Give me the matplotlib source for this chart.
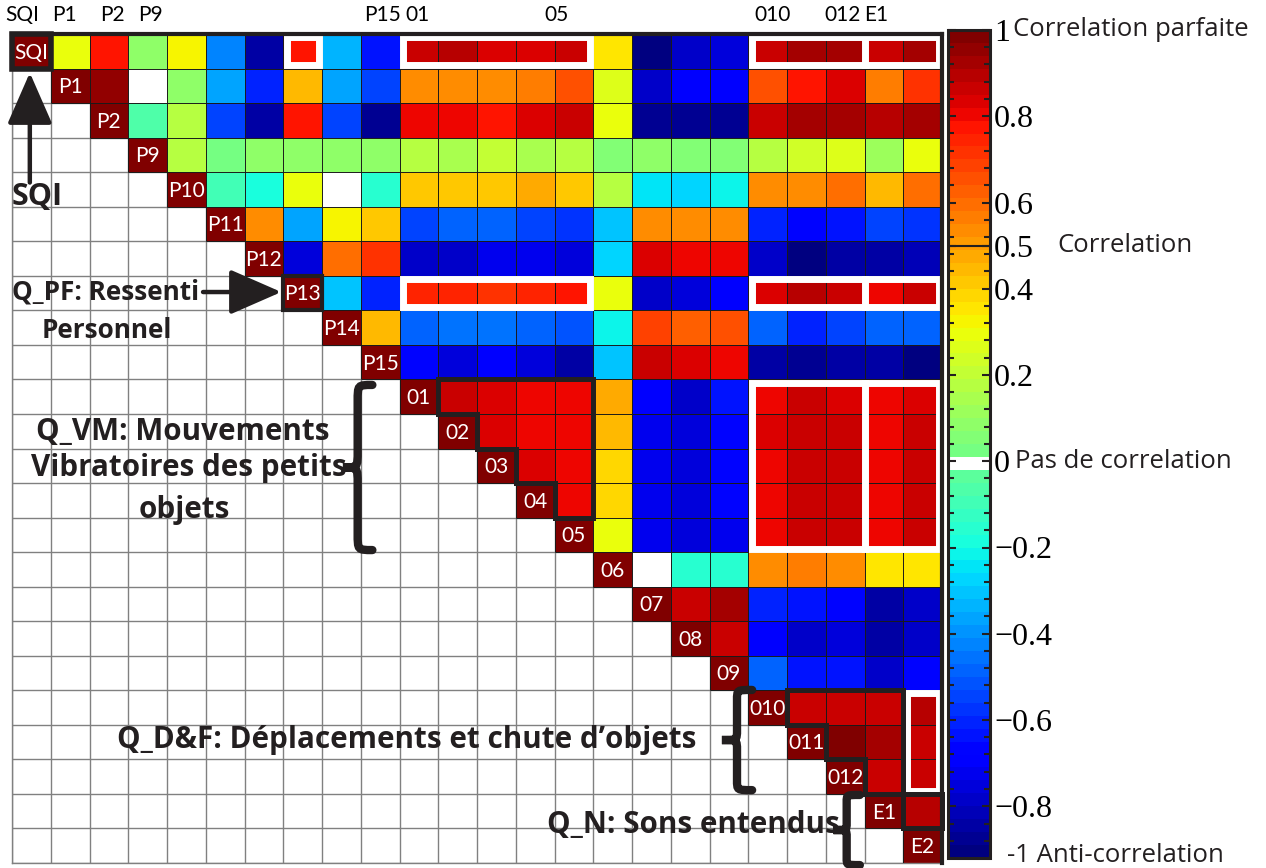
#!/usr/bin/env python
import numpy as np
import matplotlib as mpl

mpl.use("Agg")
from matplotlib import pyplot as plt
from matplotlib.colors import ListedColormap, BoundaryNorm
from matplotlib.patches import Rectangle, Polygon, PathPatch
from matplotlib.path import Path

SANS = ["Open Sans", "DejaVu Sans"]
NARROW = ["Lato", "DejaVu Sans"]
SERIF = ["Liberation Serif", "DejaVu Serif"]
INK = "#231f20"

labels = ["SQI", "P1", "P2", "P9", "P10", "P11", "P12", "P13", "P14", "P15",
          "01", "02", "03", "04", "05", "06", "07", "08", "09",
          "010", "011", "012", "E1", "E2"]

# sparse labels written above the matrix
top_ticks = ["SQI", "P1", "P2", "P9", "P15", "01", "05", "010", "012", "E1"]
top_nudge = [-0.24, -0.14, 0.08, 0.06, 0.05, -0.03, -0.44, 0.14, -0.06, -0.21]

# upper triangle, row i holds the correlations with columns i+1 .. end
corr_rows = [
    [0.30, 0.77, 0.07, 0.33, -0.44, -0.85, 0.77, -0.34, -0.64, 0.85, 0.88, 0.82,
     0.84, 0.87, 0.35, -0.90, -0.80, -0.76, 0.87, 0.92, 0.92, 0.87, 0.92],
    [0.96, 0.00, 0.07, -0.36, -0.60, 0.44, -0.38, -0.56, 0.54, 0.54, 0.52, 0.56,
     0.64, 0.27, -0.78, -0.71, -0.71, 0.64, 0.78, 0.84, 0.55, 0.70],
    [-0.06, 0.18, -0.54, -0.85, 0.76, -0.56, -0.87, 0.80, 0.80, 0.76, 0.82, 0.85,
     0.30, -0.88, -0.88, -0.88, 0.87, 0.92, 0.92, 0.88, 0.92],
    [0.18, 0.03, 0.07, 0.07, 0.08, 0.07, 0.18, 0.15, 0.20, 0.16, 0.18, 0.04,
     0.08, 0.04, 0.04, 0.18, 0.22, 0.25, 0.10, 0.28],
    [-0.10, -0.18, 0.30, 0.00, -0.17, 0.40, 0.42, 0.40, 0.46, 0.42, 0.18, -0.25,
     -0.27, -0.22, 0.54, 0.52, 0.58, 0.43, 0.59],
    [0.52, -0.38, 0.31, 0.42, -0.56, -0.50, -0.48, -0.55, -0.58, -0.30, 0.54,
     0.52, 0.54, -0.62, -0.66, -0.64, -0.54, -0.58],
    [-0.75, 0.58, 0.70, -0.78, -0.78, -0.74, -0.72, -0.76, -0.27, 0.82, 0.79,
     0.79, -0.80, -0.92, -0.85, -0.84, -0.82],
    [-0.30, -0.62, 0.75, 0.75, 0.72, 0.75, 0.78, 0.30, -0.78, -0.76, -0.71, 0.84,
     0.88, 0.87, 0.79, 0.87],
    [0.45, -0.48, -0.46, -0.46, -0.48, -0.53, -0.22, 0.68, 0.63, 0.65, -0.50,
     -0.62, -0.54, -0.48, -0.50],
    [-0.68, -0.76, -0.69, -0.76, -0.84, -0.30, 0.85, 0.83, 0.79, -0.85, -0.87,
     -0.85, -0.86, -0.90],
    [0.85, 0.82, 0.81, 0.79, 0.46, -0.71, -0.78, -0.64, 0.79, 0.85, 0.84, 0.79, 0.84],
    [0.84, 0.81, 0.79, 0.43, -0.74, -0.76, -0.66, 0.82, 0.87, 0.85, 0.81, 0.85],
    [0.82, 0.79, 0.39, -0.74, -0.76, -0.66, 0.79, 0.86, 0.86, 0.79, 0.85],
    [0.81, 0.37, -0.74, -0.76, -0.67, 0.79, 0.87, 0.85, 0.81, 0.86],
    [0.29, -0.74, -0.76, -0.73, 0.81, 0.85, 0.85, 0.81, 0.85],
    [0.00, -0.17, -0.17, 0.54, 0.57, 0.52, 0.35, 0.35],
    [0.87, 0.91, -0.62, -0.64, -0.66, -0.84, -0.78],
    [0.85, -0.71, -0.80, -0.76, -0.84, -0.78],
    [-0.48, -0.64, -0.64, -0.80, -0.66],
    [0.87, 0.86, 0.85, 0.88],
    [0.98, 0.91, 0.86],
    [0.87, 0.86],
    [0.90],
]

# highlighted groups (row from, row to, col from, col to)
white_boxes = [(0, 0, 7, 7), (0, 0, 10, 14), (0, 0, 19, 23), (7, 7, 10, 14),
               (7, 7, 19, 23), (10, 14, 19, 23), (19, 21, 23, 23)]
white_splits = [(0, 0, 21.5), (7, 7, 21.5), (10, 14, 21.5)]
# staircase blocks (first row, last row, last col)
black_blocks = [(10, 13, 14), (19, 21, 22), (22, 22, 23)]

n = len(labels)
corr = np.full((n, n), np.nan)
for i, row in enumerate(corr_rows):
    corr[i, i + 1:] = row
np.fill_diagonal(corr, 1.0)

vmin, vmax, nbins = -0.92, 1.0, 64
colors = plt.get_cmap("jet", nbins)(np.arange(nbins))
zero_bin = int((0 - vmin) / (vmax - vmin) * nbins)
colors[zero_bin] = (1, 1, 1, 1)
cmap = ListedColormap(colors)
cmap.set_bad((1, 1, 1, 0))
norm = BoundaryNorm(np.linspace(vmin, vmax, nbins + 1), nbins)

W, H = 1266, 868
fig = plt.figure(figsize=(W / 100, H / 100), dpi=100)
ax = fig.add_axes([12 / W, 1 - 863 / H, 930 / W, 829 / H])

edges = np.arange(n + 1) - 0.5
# light grid everywhere, dark grid on the coloured part
ax.hlines(edges, -0.5, n - 0.5, color="#808080", lw=1.0, zorder=1)
ax.vlines(edges, -0.5, n - 0.5, color="#808080", lw=1.0, zorder=1)
mesh = ax.pcolormesh(edges, edges, np.ma.masked_invalid(corr), cmap=cmap,
                     norm=norm, zorder=2)
k = np.arange(n + 1)
ax.hlines(k - 0.5, np.maximum(k - 1.5, -0.5), n - 0.5, color="#1a1a1a", lw=0.7, zorder=3)
ax.vlines(k - 0.5, -0.5, np.minimum(k + 0.5, n - 0.5), color="#1a1a1a", lw=0.7, zorder=3)

ax.set_xlim(-0.5, n - 0.5)
ax.set_ylim(n - 0.5, -0.5)
ax.set_xticks([])
ax.set_yticks([])
for side in ["top", "right"]:
    ax.spines[side].set_linewidth(3)
    ax.spines[side].set_color(INK)
    ax.spines[side].set_zorder(6)
for side in ["left", "bottom"]:
    ax.spines[side].set_linewidth(1.0)
    ax.spines[side].set_color("#808080")

for i, name in enumerate(labels):
    ax.text(i, i + 0.04, name, color="white", ha="center", va="center",
            fontsize=15, family=NARROW, zorder=5)

for name, dx in zip(top_ticks, top_nudge):
    ax.text(labels.index(name) + dx, -1.05, name, ha="center", va="center",
            fontsize=15, family=NARROW, clip_on=False)

# white frames around strongly correlated groups
ins = 0.09
for r0, r1, c0, c1 in white_boxes:
    ax.add_patch(Rectangle((c0 - 0.5 + ins, r0 - 0.5 + ins), c1 - c0 + 1 - 2 * ins,
                           r1 - r0 + 1 - 2 * ins, fill=False, ec="white", lw=5,
                           joinstyle="miter", zorder=4))
for r0, r1, xs in white_splits:
    ax.plot([xs, xs], [r0 - 0.5 + ins, r1 + 0.5 - ins], color="white", lw=5, zorder=4)


def stair(r0, r1, cmax):
    pts = [(r0 + 0.5, r0 - 0.5), (cmax + 0.5, r0 - 0.5), (cmax + 0.5, r1 + 0.5)]
    for r in range(r1, r0 - 1, -1):
        pts += [(r + 0.5, r + 0.5), (r + 0.5, r - 0.5)]
    return pts


for r0, r1, cmax in black_blocks:
    ax.add_patch(Polygon(stair(r0, r1, cmax), closed=True, fill=False, ec=INK,
                         lw=3.6, joinstyle="miter", zorder=5, clip_on=False))

ax.add_patch(Rectangle((-0.5, -0.5), 1, 1, fill=False, ec=INK, lw=4, zorder=5, clip_on=False))
ax.add_patch(Rectangle((6.5, 6.5), 1, 1, fill=False, ec=INK, lw=3, zorder=5))


def brace(x_tip, x_end, y_top, y_bot):
    xm = (x_tip + x_end) / 2
    ym = (y_top + y_bot) / 2
    q = (y_bot - y_top) * 0.1
    verts = [(x_end, y_top), (xm, y_top), (xm, y_top), (xm, y_top + q),
             (xm, ym - q), (xm, ym), (xm, ym), (x_tip, ym),
             (xm, ym), (xm, ym), (xm, ym + q),
             (xm, y_bot - q), (xm, y_bot), (xm, y_bot), (x_end, y_bot)]
    codes = [Path.MOVETO] + [Path.CURVE4] * 3 + [Path.LINETO] + [Path.CURVE4] * 6 \
        + [Path.LINETO] + [Path.CURVE4] * 3
    ax.add_patch(PathPatch(Path(verts, codes), fill=False, ec=INK, lw=6,
                           capstyle="round", zorder=5, clip_on=False))


brace(8.04, 8.8, 9.66, 14.44)
brace(17.82, 18.6, 18.49, 21.39)
brace(20.7, 21.38, 21.53, 23.56)

arrow = dict(arrowstyle="-|>,head_length=1.6,head_width=0.7", lw=3.2,
             color=INK, mutation_scale=20, shrinkA=0, shrinkB=0)
ax.annotate("", xy=(-0.04, 0.62), xytext=(-0.04, 3.8), arrowprops=arrow,
            annotation_clip=False, zorder=6)
ax.annotate("", xy=(6.45, 6.97), xytext=(4.43, 6.97), arrowprops=arrow,
            annotation_clip=False, zorder=6)

bold = dict(fontsize=21.3, fontweight="bold", family=SANS, va="center",
            ha="left", color=INK, zorder=6)
small_bold = dict(bold, fontsize=18.8)
ax.text(-0.5, 4.22, "SQI", **dict(bold, fontsize=22))
ax.text(-0.5, 6.97, "Q_PF: Ressenti", **small_bold)
ax.text(0.27, 8.07, "Personnel", **small_bold)
ax.text(0.12, 11.02, "Q_VM: Mouvements", **bold)
ax.text(-0.01, 12.07, "Vibratoires des petits", **bold)
ax.text(2.78, 13.28, "objets", **bold)
ax.text(2.2, 19.94, "Q_D&F: Déplacements et chute d\u2019objets", **bold)
ax.text(13.3, 22.4, "Q_N: Sons entendus", **bold)

# colorbar
cax = fig.add_axes([948 / W, 10 / H, 42 / W, 828 / H])
cb = fig.colorbar(mesh, cax=cax)
cb.outline.set_linewidth(2.2)
cb.outline.set_color(INK)
cb_ticks = [1.0, 0.8, 0.6, 0.5, 0.4, 0.2, 0.0, -0.2, -0.4, -0.6, -0.8]
cb.set_ticks(cb_ticks)
cb.set_ticklabels([("%g" % t).replace("-", "\u2212") for t in cb_ticks])
cax.set_yticks(np.arange(-0.88, 0.99, 0.04), minor=True)
cax.tick_params(which="both", direction="in", left=True, right=True,
                color=INK, width=1.5, labelsize=23, pad=3)
cax.tick_params(which="major", length=6)
cax.tick_params(which="minor", length=4)
for t in cax.get_yticklabels():
    t.set_family(SERIF)
cax.axhline(0.5, color=INK, lw=1.5)

side = dict(fontsize=18.5, family=SANS, va="center", ha="left", color=INK,
            transform=cax.get_yaxis_transform(), clip_on=False)
cax.text(1.55, 1.0, "Correlation parfaite", **side)
cax.text(2.6, 0.5, "Correlation", **side)
cax.text(1.6, 0.0, "Pas de correlation", **side)
cax.text(1.4, -0.915, "-1 Anti-correlation", **side)

fig.savefig("out.png", dpi=100)
